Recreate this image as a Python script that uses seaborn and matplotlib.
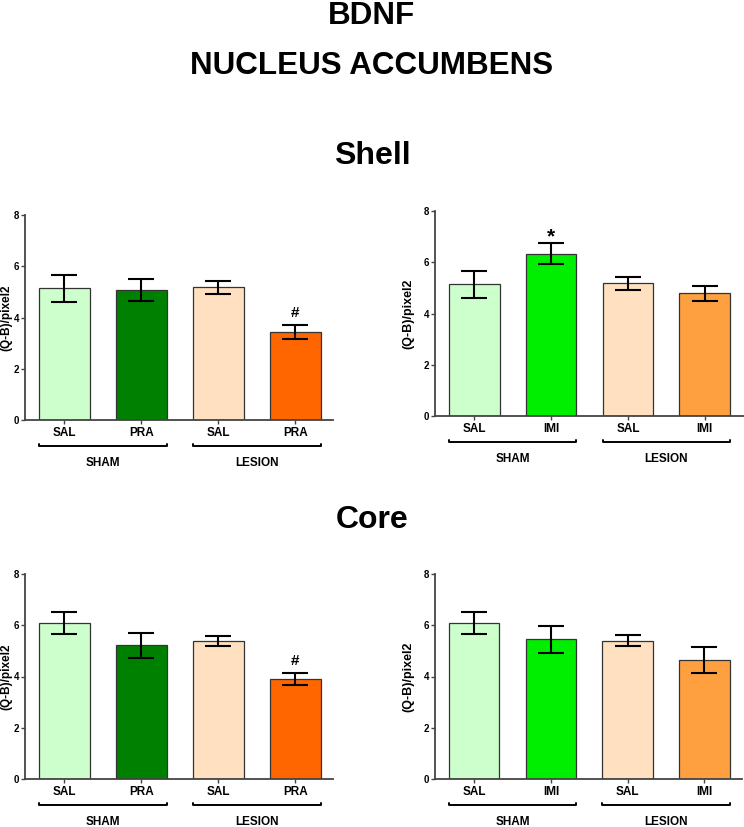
import numpy as np
import pandas as pd
import matplotlib
matplotlib.use("Agg")
import matplotlib.pyplot as plt
import seaborn as sns

# group keys (tick labels repeat, so keep keys unique)
groups_pra = ["SHAM SAL", "SHAM PRA", "LESION SAL", "LESION PRA"]
groups_imi = ["SHAM SAL", "SHAM IMI", "LESION SAL", "LESION IMI"]
ticks_pra = ["SAL", "PRA", "SAL", "PRA"]
ticks_imi = ["SAL", "IMI", "SAL", "IMI"]

# Shell
shell_pra_mean = [5.14, 5.07, 5.18, 3.43]
shell_pra_sem = [0.53, 0.43, 0.25, 0.28]
shell_imi_mean = [5.14, 6.34, 5.18, 4.79]
shell_imi_sem = [0.53, 0.41, 0.25, 0.30]

# Core
core_pra_mean = [6.08, 5.21, 5.39, 3.90]
core_pra_sem = [0.44, 0.50, 0.21, 0.25]
core_imi_mean = [6.08, 5.46, 5.40, 4.64]
core_imi_sem = [0.44, 0.53, 0.22, 0.50]

colors_pra = ["#CCFFCC", "#008000", "#FFE0C0", "#FF6600"]
colors_imi = ["#CCFFCC", "#00EE00", "#FFE0C0", "#FFA040"]

sns.set_style("white")
plt.rcParams['font.family'] = ['Liberation Sans', 'DejaVu Sans']
plt.rcParams['font.weight'] = 'bold'
plt.rcParams['text.color'] = 'black'
plt.rcParams['xtick.color'] = 'black'
plt.rcParams['ytick.color'] = 'black'
plt.rcParams['axes.labelcolor'] = 'black'

W, H = 744, 827
fig = plt.figure(figsize=(W / 100, H / 100), dpi=100)


def px_axes(left, right, top, bottom):
    return fig.add_axes([left / W, 1 - bottom / H, (right - left) / W, (bottom - top) / H])


def panel(ax, groups, ticks, means, sems, colors, xr, lab_x, lab_fs, marks=None):
    df = pd.DataFrame({"group": groups, "value": means})
    sns.barplot(data=df, x="group", y="value", hue="group", palette=colors,
                order=groups, hue_order=groups, width=0.66, errorbar=None,
                saturation=1, edgecolor="#333333", linewidth=0.9, legend=False, ax=ax)
    ax.errorbar(np.arange(len(groups)), means, yerr=sems, fmt="none",
                ecolor="black", elinewidth=1.5, capsize=9.5, capthick=1.5, zorder=5)
    ax.set_xlim(-0.51, xr)
    ax.set_ylim(0, 8)
    ax.set_yticks([0, 2, 4, 6, 8])
    ax.set_yticklabels(["0", "2", "4", "6", "8"], fontsize=7, fontweight="bold")
    ax.set_xticks(range(len(groups)))
    ax.set_xticklabels(ticks, fontsize=8.5, fontweight="bold")
    ax.set_xlabel("")
    ax.set_ylabel("(Q-B)/pixel2", fontsize=lab_fs, fontweight="bold")
    ax.yaxis.set_label_coords(lab_x, 0.5)
    for s in ["top", "right"]:
        ax.spines[s].set_visible(False)
    for s in ["left", "bottom"]:
        ax.spines[s].set_color("#444444")
        ax.spines[s].set_linewidth(1.3)
    ax.tick_params(axis="both", direction="out", length=3, width=1, color="#444444", pad=1)
    ax.tick_params(axis="y", left=True)
    ax.tick_params(axis="x", bottom=True, pad=2)
    # group brackets
    tr = ax.get_xaxis_transform()
    for (x0, x1), name in [((-0.33, 1.33), "SHAM"), ((1.67, 3.33), "LESION")]:
        ax.plot([x0, x0, x1, x1], [-0.115, -0.127, -0.127, -0.115], color="black",
                lw=1.4, transform=tr, clip_on=False)
        ax.text((x0 + x1) / 2, -0.21, name, transform=tr, ha="center", va="center",
                fontsize=8.5, fontweight="bold")
    if marks:
        for i, m, fs, off in marks:
            ax.text(i, means[i] + sems[i] + off, m, ha="center", va="center",
                    fontsize=fs, fontweight="bold")


ax1 = px_axes(25, 333, 215, 420)
panel(ax1, groups_pra, ticks_pra, shell_pra_mean, shell_pra_sem, colors_pra, 3.49, -0.040, 8.5,
      [(3, "#", 11, 0.45)])
ax2 = px_axes(435, 744, 211, 416)
panel(ax2, groups_imi, ticks_imi, shell_imi_mean, shell_imi_sem, colors_imi, 3.51, -0.068, 9,
      [(1, "*", 15, 0.25)])
ax3 = px_axes(25, 333, 574, 779)
panel(ax3, groups_pra, ticks_pra, core_pra_mean, core_pra_sem, colors_pra, 3.49, -0.040, 8.5,
      [(3, "#", 11, 0.45)])
ax4 = px_axes(435, 742, 574, 779)
panel(ax4, groups_imi, ticks_imi, core_imi_mean, core_imi_sem, colors_imi, 3.49, -0.068, 9)

fig.text(0.5, 1 - 16 / H, "BDNF", ha="center", va="center", fontsize=22.6, fontweight="bold")
fig.text(0.5, 1 - 66 / H, "NUCLEUS ACCUMBENS", ha="center", va="center", fontsize=22.6, fontweight="bold")
fig.text(0.5, 1 - 156 / H, "Shell", ha="center", va="center", fontsize=23, fontweight="bold")
fig.text(0.5, 1 - 520 / H, "Core", ha="center", va="center", fontsize=23, fontweight="bold")

fig.savefig("out.png", dpi=100)
